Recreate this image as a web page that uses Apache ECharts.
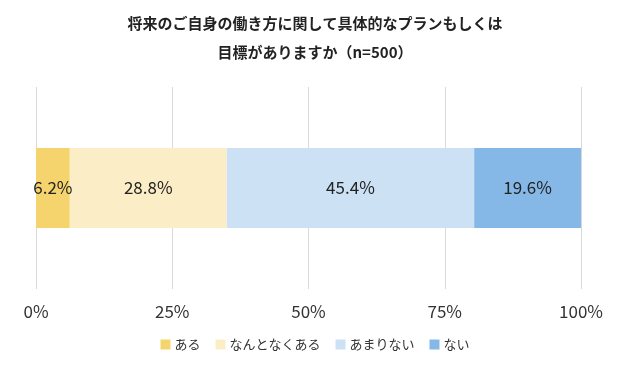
<!DOCTYPE html>
<html>
<head>
<meta charset="utf-8">
<script src="https://cdn.jsdelivr.net/npm/echarts@6/dist/echarts.min.js"></script>
<style>
html,body{margin:0;padding:0;background:#fff;}
#chart{width:630px;height:377px;}
</style>
</head>
<body>
<div id="chart"></div>
<script>
var myChart = echarts.init(document.getElementById('chart'));

/* データ */
var seriesNames = ['ある', 'なんとなくある', 'あまりない', 'ない'];
var seriesValues = [6.2, 28.8, 45.4, 19.6];
var seriesColors = ['#F5D46E', '#FBEEC6', '#CDE1F5', '#85B8E6'];
var category = ['全体'];

var font = '"Noto Sans CJK JP", "Noto Sans", sans-serif';

var seriesList = [];
for (var i = 0; i < seriesNames.length; i++) {
    seriesList.push({
        name: seriesNames[i],
        type: 'bar',
        stack: 'total',
        barWidth: 80,
        data: [seriesValues[i]],
        itemStyle: { color: seriesColors[i] },
        label: {
            show: true,
            position: 'inside',
            formatter: '{c}%',
            color: '#222',
            fontSize: 17,
            fontFamily: font
        }
    });
}

var option = {
    backgroundColor: '#fff',
    animation: false,
    title: {
        text: '将来のご自身の働き方に関して具体的なプランもしくは\n目標がありますか（n=500）',
        left: 'center',
        top: 4,
        textStyle: {
            fontSize: 15,
            fontWeight: 'bold',
            color: '#222',
            fontFamily: font,
            lineHeight: 29
        }
    },
    legend: {
        bottom: 21,
        left: 'center',
        itemWidth: 10,
        itemHeight: 10,
        itemGap: 15,
        icon: 'rect',
        textStyle: { fontSize: 13, color: '#333', fontFamily: font, padding: [0, 0, 0, -1] },
        data: seriesNames
    },
    grid: {
        left: 36,
        right: 49,
        top: 87,
        bottom: 88
    },
    xAxis: {
        type: 'value',
        min: 0,
        max: 100,
        interval: 25,
        axisLine: { show: false },
        axisTick: { show: false },
        axisLabel: {
            formatter: '{value}%',
            fontSize: 17,
            color: '#333',
            margin: 14,
            fontFamily: font
        },
        splitLine: { lineStyle: { color: '#d9d9d9', width: 1 } }
    },
    yAxis: {
        type: 'category',
        data: category,
        show: false
    },
    series: seriesList
};
myChart.setOption(option);
</script>
</body>
</html>
